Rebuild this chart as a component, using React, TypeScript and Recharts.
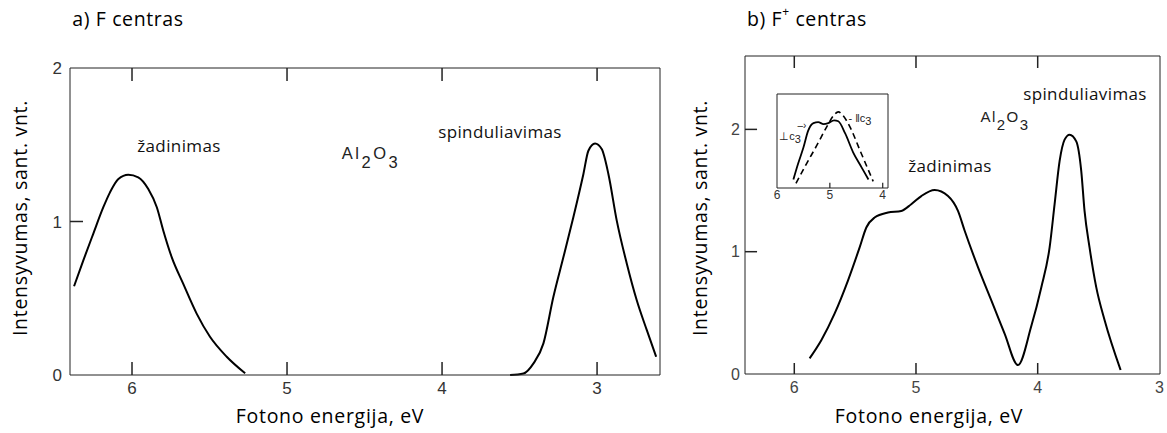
import React from "react";
import { LineChart, Line, XAxis, YAxis } from "recharts";

// ---------- Data (photon energy eV, intensity arb. units) ----------
const aExcE = [6.374, 6.314, 6.25, 6.185, 6.142, 6.088, 6.024, 5.96, 5.895, 5.84, 5.798, 5.744, 5.67, 5.583, 5.497, 5.389, 5.27];
const aExcI = [0.578, 0.747, 0.92, 1.093, 1.19, 1.277, 1.305, 1.288, 1.212, 1.093, 0.94, 0.768, 0.595, 0.4, 0.249, 0.119, 0.011];

const aEmE = [3.561, 3.475, 3.41, 3.346, 3.282, 3.217, 3.153, 3.088, 3.056, 3.013, 2.97, 2.927, 2.873, 2.808, 2.744, 2.679, 2.619];
const aEmI = [0.0, 0.01, 0.076, 0.206, 0.508, 0.768, 1.028, 1.31, 1.461, 1.508, 1.472, 1.31, 1.006, 0.725, 0.487, 0.292, 0.119];

const bE = [5.874, 5.778, 5.669, 5.559, 5.463, 5.408, 5.34, 5.23, 5.121, 5.039, 4.956, 4.847, 4.737, 4.655, 4.6, 4.49, 4.381, 4.272, 4.162, 4.053, 3.97, 3.902, 3.861, 3.82, 3.779, 3.738, 3.683, 3.642, 3.615, 3.574, 3.519, 3.45, 3.319];
const bI = [0.128, 0.276, 0.493, 0.764, 1.035, 1.198, 1.279, 1.32, 1.333, 1.388, 1.455, 1.504, 1.455, 1.333, 1.171, 0.872, 0.602, 0.331, 0.073, 0.39, 0.71, 1.035, 1.388, 1.74, 1.916, 1.957, 1.902, 1.659, 1.333, 1.035, 0.71, 0.439, 0.033];

const insPerpE = [5.69, 5.6, 5.5, 5.41, 5.31, 5.22, 5.12, 5.03, 4.92, 4.84, 4.71, 4.56, 4.4, 4.27];
const insPerpI = [0.09, 0.26, 0.43, 0.61, 0.69, 0.7, 0.68, 0.69, 0.72, 0.71, 0.58, 0.38, 0.22, 0.09];
const insParE = [5.64, 5.44, 5.25, 5.06, 4.93, 4.84, 4.75, 4.62, 4.43, 4.18];
const insParI = [0.05, 0.26, 0.45, 0.65, 0.77, 0.81, 0.77, 0.65, 0.4, 0.07];

// ---------- Axes ----------
const aXDomain = [2.594, 6.4];
const aYDomain = [0, 2];
const bXDomain = [2.995, 6.405];
const bYDomain = [0, 2.6];
const insXDomain = [3.9, 6];
const insYDomain = [0, 1];

const aXTicks = [6, 5, 4, 3];
const bXTicks = [6, 5, 4, 3];
const bTopTicks = [6, 5, 4];
const aYTicks = [1];
const bYTicks = [1, 2];
const yTicks = [0, 1, 2];
const insTicks = [6, 5, 4];
const insInnerTicks = [5, 4];

const zip = (e: number[], i: number[]) => e.map((x, k) => ({ e: x, i: i[k] }));
const aExc = zip(aExcE, aExcI);
const aEm = zip(aEmE, aEmI);
const bMain = zip(bE, bI);
const insPerp = zip(insPerpE, insPerpI);
const insPar = zip(insParE, insParI);

// inward tick marks, built from the tick arrays (lengths in data units)
const vTicks = (xs: number[], y0: number, y1: number) => xs.map((t) => [{ e: t, i: y0 }, { e: t, i: y1 }]);
const hTicks = (ys: number[], x0: number, x1: number) => ys.map((v) => [{ e: x0, i: v }, { e: x1, i: v }]);

const aTickMarks = [
  ...vTicks(aXTicks, 0, 0.085),
  ...vTicks(aXTicks, 2, 2 - 0.085),
  ...hTicks(aYTicks, 6.4, 6.316),
];
const bTickMarks = [
  ...vTicks(bTopTicks, 0, 0.09),
  ...vTicks(bTopTicks, 2.6, 2.6 - 0.098),
  ...hTicks(bYTicks, 6.405, 6.306),
];
const insTickMarks = vTicks(insInnerTicks, 0, 0.055);

const TXT = "'Open Sans', 'Noto Sans', sans-serif";
const NUM = "'Liberation Sans', Arial, sans-serif";
const AX = "#222";

// tick label renderers (mirrored axes with tickMargin 0: p.x / p.y is the inner end of the tick)
const makeBottomTick = (dy: number, size: number, fill: string) => (p: any) => (
  <text x={p.x} y={p.y + dy} textAnchor="middle" fontSize={size} fill={fill} fontFamily={NUM}>
    {p.payload.value}
  </text>
);
const makeLeftTick = (dx: number, size: number, fill: string) => (p: any) => (
  <text x={p.x - dx} y={p.y + size * 0.36} textAnchor="end" fontSize={size} fill={fill} fontFamily={NUM}>
    {p.payload.value}
  </text>
);
const EmptyTick = () => <g />;

const aBottomTick = makeBottomTick(32, 17, "#333");
const aLeftTick = makeLeftTick(21, 17, "#333");
const bBottomTick = makeBottomTick(30, 16, "#444");
const bLeftTick = makeLeftTick(17, 16, "#444");
const insBottomTick = makeBottomTick(16, 12, "#333");

const Lbl = ({ x, y, children, size = 17, rotate = false, family = TXT, color = "#111", spacing = 0 }: any) => (
  <div
    style={{
      position: "absolute",
      left: x,
      top: y,
      transform: `translate(-50%, -50%)${rotate ? " rotate(-90deg)" : ""}`,
      fontFamily: family,
      fontSize: size,
      color,
      whiteSpace: "nowrap",
      lineHeight: 1,
      letterSpacing: spacing,
      pointerEvents: "none",
    }}
  >
    {children}
  </div>
);

const Al2O3 = ({ x, y, size, spacing }: any) => (
  <Lbl x={x} y={y} size={size} family={NUM} color="#222" spacing={spacing}>
    Al<span style={{ position: "relative", top: size * 0.55 }}>2</span>O
    <span style={{ position: "relative", top: size * 0.55 }}>3</span>
  </Lbl>
);

const tickLines = (marks: any[], prefix: string, sw: number) =>
  marks.map((d, k) => (
    <Line
      key={prefix + k}
      data={d}
      dataKey="i"
      type="linear"
      stroke={AX}
      strokeWidth={sw}
      dot={false}
      activeDot={false}
      isAnimationActive={false}
    />
  ));

export default function App() {
  return (
    <div style={{ position: "absolute", left: 0, top: 0, width: 1167, height: 433 }}>
      {/* Panel a : frame x 70..660, y 67..375 */}
      <div style={{ position: "absolute", left: 0, top: 0 }}>
        <LineChart width={680} height={433} data={aExc} margin={{ top: 67, left: 70, right: 19, bottom: 58 }}>
          <XAxis type="number" dataKey="e" domain={aXDomain} reversed ticks={aXTicks} height={1} mirror
            tickSize={13} tickMargin={0} tickLine={false} stroke={AX} tick={aBottomTick} interval={0} />
          <XAxis xAxisId="top" orientation="top" type="number" dataKey="e" domain={aXDomain} reversed height={1}
            tick={false} tickLine={false} stroke={AX} />
          <YAxis type="number" domain={aYDomain} ticks={yTicks} width={1} mirror
            tickSize={13} tickMargin={0} tickLine={false} stroke={AX} tick={aLeftTick} interval={0} />
          <YAxis yAxisId="right" orientation="right" type="number" domain={aYDomain} width={1}
            tick={false} tickLine={false} stroke={AX} />
          {tickLines(aTickMarks, "at", 1.5)}
          <Line data={aExc} dataKey="i" type="monotone" stroke="#000" strokeWidth={2} dot={false} isAnimationActive={false} />
          <Line data={aEm} dataKey="i" type="monotone" stroke="#000" strokeWidth={2} dot={false} isAnimationActive={false} />
        </LineChart>
      </div>

      {/* Panel b : frame x 745..1160, y 55..374 */}
      <div style={{ position: "absolute", left: 680, top: 0 }}>
        <LineChart width={487} height={433} data={bMain} margin={{ top: 55, left: 65, right: 6, bottom: 59 }}>
          <XAxis type="number" dataKey="e" domain={bXDomain} reversed ticks={bXTicks} height={1} mirror
            tickSize={11} tickMargin={0} tickLine={false} stroke={AX} tick={bBottomTick} interval={0} />
          <XAxis xAxisId="top" orientation="top" type="number" dataKey="e" domain={bXDomain} reversed height={1}
            tick={false} tickLine={false} stroke={AX} />
          <YAxis type="number" domain={bYDomain} ticks={yTicks} width={1} mirror
            tickSize={12} tickMargin={0} tickLine={false} stroke={AX} tick={bLeftTick} interval={0} />
          <YAxis yAxisId="right" orientation="right" type="number" domain={bYDomain} width={1}
            tick={false} tickLine={false} stroke={AX} />
          {tickLines(bTickMarks, "bt", 1.5)}
          <Line data={bMain} dataKey="i" type="monotone" stroke="#000" strokeWidth={2} dot={false} isAnimationActive={false} />
        </LineChart>
      </div>

      {/* Inset in panel b : frame x 777..888, y 93..188 */}
      <div style={{ position: "absolute", left: 767, top: 88 }}>
        <LineChart width={131} height={115} data={insPerp} margin={{ top: 5, left: 10, right: 9, bottom: 15 }}>
          <XAxis type="number" dataKey="e" domain={insXDomain} reversed ticks={insTicks} height={1} mirror
            tickSize={5} tickMargin={0} tickLine={false} stroke={AX} tick={insBottomTick} interval={0} />
          <XAxis xAxisId="top" orientation="top" type="number" dataKey="e" domain={insXDomain} reversed height={1}
            tick={false} tickLine={false} stroke={AX} />
          <YAxis type="number" domain={insYDomain} width={1} mirror tick={EmptyTick} tickLine={false} stroke={AX} />
          <YAxis yAxisId="right" orientation="right" type="number" domain={insYDomain} width={1}
            tick={false} tickLine={false} stroke={AX} />
          {tickLines(insTickMarks, "it", 1.2)}
          <Line data={insPerp} dataKey="i" type="monotone" stroke="#000" strokeWidth={1.8} dot={false} isAnimationActive={false} />
          <Line data={insPar} dataKey="i" type="monotone" stroke="#000" strokeWidth={1.6} strokeDasharray="6 4" dot={false} isAnimationActive={false} />
        </LineChart>
      </div>

      {/* Titles */}
      <Lbl x={128} y={19} size={19.5} spacing={0.6} color="#000">a) F centras</Lbl>
      <Lbl x={807} y={19} size={19.5} spacing={0.6} color="#000">
        b) F<sup style={{ fontSize: 12, verticalAlign: "top", position: "relative", top: -3 }}>+</sup> centras
      </Lbl>

      {/* Axis titles */}
      <Lbl x={330} y={416} size={19.5} spacing={0.7} color="#000">Fotono energija, eV</Lbl>
      <Lbl x={929} y={416} size={19.5} spacing={0.7} color="#000">Fotono energija, eV</Lbl>
      <Lbl x={20} y={218} size={19.5} spacing={0.7} rotate color="#000">Intensyvumas, sant. vnt.</Lbl>
      <Lbl x={700} y={218} size={19.5} spacing={0.7} rotate color="#000">Intensyvumas, sant. vnt.</Lbl>

      {/* Annotations panel a */}
      <Lbl x={179} y={145} size={17} spacing={0.4}>žadinimas</Lbl>
      <Lbl x={500} y={131} size={17} spacing={0.4}>spinduliavimas</Lbl>
      <Al2O3 x={371} y={153} size={16.5} spacing={2.5} />

      {/* Annotations panel b */}
      <Lbl x={950} y={165} size={17} spacing={0.4}>žadinimas</Lbl>
      <Lbl x={1085} y={93} size={17} spacing={0.4}>spinduliavimas</Lbl>
      <Al2O3 x={1005} y={116} size={15} spacing={1.5} />

      {/* Inset labels */}
      <Lbl x={790} y={136} size={11} family={NUM} color="#222">
        ⊥c<span style={{ position: "relative", top: 3 }}>3</span>
      </Lbl>
      <Lbl x={802} y={126} size={10} family={NUM} color="#222">‒›</Lbl>
      <Lbl x={860} y={118} size={11} family={NUM} color="#222">
        - ‖c<span style={{ position: "relative", top: 3 }}>3</span>
      </Lbl>
    </div>
  );
}
